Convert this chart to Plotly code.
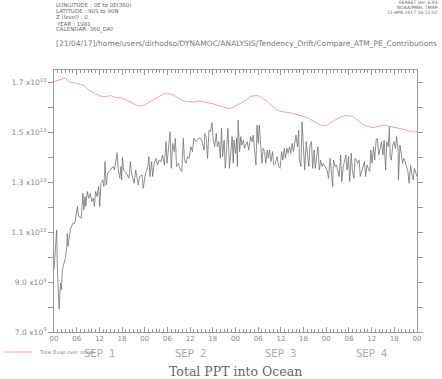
import plotly.graph_objects as go

# ---------------- data ----------------
evap_hours = list(range(0, 97))
evap_e9 = [17.03, 17.08, 17.15, 17.18, 17.02, 17.0, 16.97, 16.92, 16.87, 16.72,
           16.62, 16.55, 16.47, 16.43, 16.45, 16.47, 16.41, 16.39, 16.37, 16.3,
           16.22, 16.15, 16.08, 16.06, 16.1, 16.2, 16.29, 16.38, 16.48, 16.54,
           16.56, 16.53, 16.46, 16.37, 16.27, 16.24, 16.21, 16.21, 16.26, 16.24,
           16.2, 16.18, 16.15, 16.1, 16.05, 15.99, 15.96, 15.98, 16.06, 16.12,
           16.22, 16.32, 16.44, 16.47, 16.47, 16.38, 16.28, 16.14, 16.01, 15.9,
           15.84, 15.82, 15.8, 15.77, 15.72, 15.69, 15.64, 15.59, 15.5, 15.41,
           15.33, 15.27, 15.27, 15.37, 15.47, 15.56, 15.64, 15.67, 15.67, 15.63,
           15.52, 15.4, 15.3, 15.24, 15.2, 15.21, 15.26, 15.29, 15.27, 15.25,
           15.2, 15.17, 15.13, 15.08, 15.04, 15.02, 15.03]

ppt_hours = [0.0, 0.7, 0.9, 1.35, 1.7, 2.0, 2.2, 3.0, 3.4, 3.5, 3.7, 4.3, 5.0, 5.5, 6.2, 6.5,
             7.2, 7.65, 7.9, 8.2, 8.4, 8.8, 9.2, 9.6, 10.0, 10.4, 10.7, 11.0, 11.4, 11.8, 12.1,
             12.4, 12.9, 13.2, 13.5, 13.8, 14.2, 14.9, 15.6, 16.0, 16.7, 17.0, 17.4, 17.7, 17.9,
             18.1, 18.4, 19.1, 19.8, 20.2, 20.5, 21.2, 21.6, 22.3, 22.6, 23.3,
             23.6, 24.2, 24.8, 25.1, 25.4, 25.8, 26.1, 26.5, 27.0, 27.4, 27.8, 28.3, 28.7, 29.2,
             29.6, 29.9, 30.3, 30.7, 31.0, 31.4, 31.8, 32.1, 32.4, 32.9, 33.4, 33.8, 34.2, 34.5,
             34.9, 35.3, 35.7, 36.2, 36.6, 37.0, 37.5, 37.9, 38.3, 38.8, 39.2, 39.7, 39.9, 40.3,
             40.6, 41.0, 41.4, 41.8, 42.1, 42.5, 42.9, 43.2, 43.6, 44.0, 44.3, 44.6, 45.0, 45.3,
             45.7, 46.0, 46.4, 46.7, 47.1, 47.4,
             47.6, 48.0, 48.3, 48.5, 48.7, 49.1, 49.4, 49.7, 50.1, 50.4, 50.8, 51.1, 51.5, 52.0,
             52.4, 52.7, 53.0, 53.4, 53.7, 54.0, 54.3, 54.6, 55.0, 55.3, 55.7, 56.0, 56.4, 56.7,
             57.0, 57.4, 57.8, 58.1, 58.5, 59.0, 59.4, 59.8, 60.2, 60.5, 60.9, 61.2, 61.6, 61.9,
             62.3, 62.6, 63.0, 63.3, 63.7, 64.0, 64.4, 64.7, 64.9, 65.3, 65.6, 66.0, 66.3, 66.7,
             67.0, 67.4, 67.7, 68.1, 68.4, 68.8, 69.1, 69.5, 69.8, 70.2, 70.5, 70.9, 71.2,
             71.7, 72.2, 72.6, 73.0, 73.3, 73.7, 73.9, 74.4, 74.7, 75.1, 75.4, 75.8, 76.1, 76.5,
             76.8, 77.2, 77.5, 77.9, 78.2, 78.6, 78.9, 79.3, 79.6, 80.0, 80.3, 80.7, 81.0, 81.4,
             81.7, 82.1, 82.4, 82.8, 83.1, 83.5, 83.8, 84.1, 84.5, 84.8, 85.2, 85.5, 85.9, 86.3,
             86.6, 87.0, 87.3, 87.7, 88.0, 88.4, 88.7, 88.9, 89.2, 89.6, 89.9, 90.3, 90.6, 91.0,
             91.1, 91.5, 91.9, 92.2, 92.5, 92.9, 93.2, 93.6, 93.9, 94.3, 94.6, 95.0, 95.3, 95.7,
             96.0]
ppt_e9 = [9.49, 11.09, 9.49, 7.92, 8.96, 8.69, 9.49, 9.96, 10.43, 10.96, 10.43, 11.09, 11.36, 11.36, 12.03, 11.63,
          11.56, 12.56, 11.89, 12.43, 12.03, 12.63, 12.36, 12.56, 12.23, 12.36, 12.03, 12.63, 12.43, 12.83, 12.03,
          12.96, 13.09, 12.83, 13.83, 12.89, 13.36, 13.49, 13.63, 13.49, 14.19, 13.49, 13.16, 13.63, 13.09,
          14.0, 13.49, 13.36, 13.16, 13.83, 13.36, 12.96, 13.49, 12.89, 13.23, 13.29,
          12.76, 13.36, 13.63, 14.03, 13.23, 13.83, 13.23, 13.76, 13.96, 13.69, 13.89, 13.83, 14.09, 13.69,
          14.63, 13.76, 14.29, 15.03, 13.56, 14.56, 14.23, 14.76, 13.63, 13.76, 13.49, 13.43, 14.76, 13.89,
          13.76, 14.03, 13.96, 14.43, 14.23, 14.76, 14.63, 14.69, 14.76, 14.76, 14.63, 14.29, 14.96, 14.76,
          13.96, 15.09, 15.03, 15.39, 14.69, 14.43, 14.96, 14.43, 14.63, 13.96, 15.16, 14.03, 14.69, 13.56,
          14.63, 15.16, 13.56, 14.16, 14.83, 13.76,
          14.69, 14.16, 14.76, 13.63, 15.49, 14.23, 14.83, 14.49, 14.69, 14.36, 14.49, 14.63, 14.29, 14.83,
          14.63, 14.89, 14.36, 13.69, 15.29, 14.56, 15.29, 14.49, 13.76, 14.36, 14.23, 13.76, 14.29, 13.96,
          14.29, 13.83, 14.23, 13.69, 13.76, 14.03, 13.63, 13.56, 14.23, 13.89, 14.36, 13.96, 14.36, 14.16,
          14.43, 14.16, 14.56, 14.23, 14.69, 14.89, 14.43, 15.09, 13.89, 13.63, 15.43, 14.16, 13.49, 14.63,
          14.09, 13.63, 14.49, 14.63, 13.56, 14.29, 13.56, 13.96, 14.43, 13.49, 13.89, 13.63, 13.76,
          13.63, 13.49, 13.16, 13.96, 13.49, 12.83, 13.89, 13.63, 13.69, 13.36, 13.23, 14.09, 13.03, 13.63,
          13.89, 14.09, 13.49, 14.03, 13.03, 14.16, 13.49, 13.16, 13.96, 13.89, 13.76, 13.89, 13.23, 13.49,
          13.63, 13.83, 13.23, 13.69, 13.56, 13.43, 14.29, 13.76, 14.43, 13.89, 14.69, 14.76, 14.09, 14.49,
          14.63, 14.09, 14.69, 13.49, 14.63, 14.43, 15.23, 14.03, 13.89, 14.49, 14.63, 14.36, 14.83, 14.29,
          13.09, 14.49, 14.16, 13.76, 13.96, 13.83, 13.63, 13.43, 12.96, 13.69, 13.36, 13.09, 13.56, 13.36,
          13.23]

y_tick_vals_e9 = [7, 9, 11, 13, 15, 17]
y_tick_labels = ["7.0 x10<sup>9</sup>", "9.0 x10<sup>9</sup>", "1.1 x10<sup>10</sup>",
                 "1.3 x10<sup>10</sup>", "1.5 x10<sup>10</sup>", "1.7 x10<sup>10</sup>"]
x_tick_hours = list(range(0, 97, 6))
x_tick_labels = ["00", "06", "12", "18"] * 4 + ["00"]
day_labels = ["SEP\u00a0\u00a01", "SEP\u00a0\u00a02", "SEP\u00a0\u00a03", "SEP\u00a0\u00a04"]
day_centers = [12, 36, 60, 84]

header_lines = ["LONGITUDE : 0E to 0E(360)", "LATITUDE : 90S to 90N", "Z (level) : 0",
                "YEAR : 1981", "CALENDAR: 360_DAY"]
ferret_lines = ["FERRET Ver. 6.93", "NOAA/PMEL TMAP", "21-APR-2017 16:22:02"]
path_text = "[21/04/17]/home/users/dirhodso/DYNAMOC/ANALYSIS/Tendency_Drift/Compare_ATM_PE_Contributions"
title_text = "Total PPT into Ocean"
legend_text = "Total Evap over ocean"

# ---------------- figure ----------------
W, H = 442, 379
ML, MR, MT, MB = 50, 25, 70, 47
PW, PH = W - ML - MR, H - MT - MB


def px(x):
    return (x - ML) / PW


def py(y):
    return (H - MB - y) / PH


fig = go.Figure()
fig.add_trace(go.Scatter(x=ppt_hours, y=[v * 1e9 for v in ppt_e9], mode="lines",
                         line=dict(color="#747474", width=0.8), showlegend=False))
fig.add_trace(go.Scatter(x=evap_hours, y=[v * 1e9 for v in evap_e9], mode="lines",
                         line=dict(color="#ff9a9a", width=1), showlegend=False))

axis_col = "#9a9a9a"
fig.update_xaxes(range=[0, 96], tickvals=x_tick_hours, ticktext=x_tick_labels,
                 ticks="inside", ticklen=5, tickcolor=axis_col, showline=True,
                 linecolor=axis_col, linewidth=1, mirror="ticks", showgrid=False,
                 zeroline=False, tickfont=dict(family="DejaVu Sans", size=7, color="#8a8a8a"),
                 minor=dict(tickmode="linear", dtick=1, tick0=0, ticks="inside", ticklen=3,
                            tickcolor=axis_col, showgrid=False))
fig.update_yaxes(range=[7e9, 1.75e10], tickvals=[v * 1e9 for v in y_tick_vals_e9],
                 ticktext=y_tick_labels, ticks="outside", ticklen=5, tickcolor=axis_col,
                 showline=True, linecolor=axis_col, linewidth=1, mirror="ticks",
                 showgrid=False, zeroline=False,
                 tickfont=dict(family="DejaVu Sans", size=7.5, color="#8a8a8a"),
                 minor=dict(tickmode="linear", tick0=7e9, dtick=1e9, ticks="outside", ticklen=5,
                            tickcolor=axis_col, showgrid=False))

ann = []
for i, t in enumerate(header_lines):
    ann.append(dict(x=px(50), y=py(5 + i * 6.2), xref="paper", yref="paper", text=t,
                    showarrow=False, xanchor="left", yanchor="middle",
                    font=dict(family="DejaVu Sans", size=5.5, color="#666")))
for i, t in enumerate(ferret_lines):
    ann.append(dict(x=px(440), y=py(3 + i * 5), xref="paper", yref="paper", text=t,
                    showarrow=False, xanchor="right", yanchor="middle",
                    font=dict(family="DejaVu Sans", size=4.5, color="#666")))
ann.append(dict(x=px(50), y=py(44), xref="paper", yref="paper", text=path_text,
                showarrow=False, xanchor="left", yanchor="middle",
                font=dict(family="DejaVu Sans", size=7.5, color="#777")))
ann.append(dict(x=px(233.5), y=py(371), xref="paper", yref="paper", text=title_text,
                showarrow=False, xanchor="center", yanchor="middle",
                font=dict(family="DejaVu Serif", size=12.5, color="#666")))
for c, t in zip(day_centers, day_labels):
    ann.append(dict(x=c, y=py(353), xref="x", yref="paper", text=t, showarrow=False,
                    xanchor="center", yanchor="middle",
                    font=dict(family="DejaVu Sans", size=10, color="#aaa")))
ann.append(dict(x=px(33), y=py(352), xref="paper", yref="paper", text=legend_text,
                showarrow=False, xanchor="left", yanchor="middle",
                font=dict(family="DejaVu Sans", size=5, color="#888")))

fig.update_layout(
    width=W, height=H, margin=dict(l=ML, r=MR, t=MT, b=MB, pad=0),
    paper_bgcolor="white", plot_bgcolor="white", showlegend=False,
    annotations=ann,
    shapes=[dict(type="line", xref="paper", yref="paper", x0=px(0), x1=px(28),
                 y0=py(352), y1=py(352), line=dict(color="#ff9a9a", width=1))],
)

fig.write_html("out.html", config={"displayModeBar": False},
               post_script="document.body.style.margin='0px';")
